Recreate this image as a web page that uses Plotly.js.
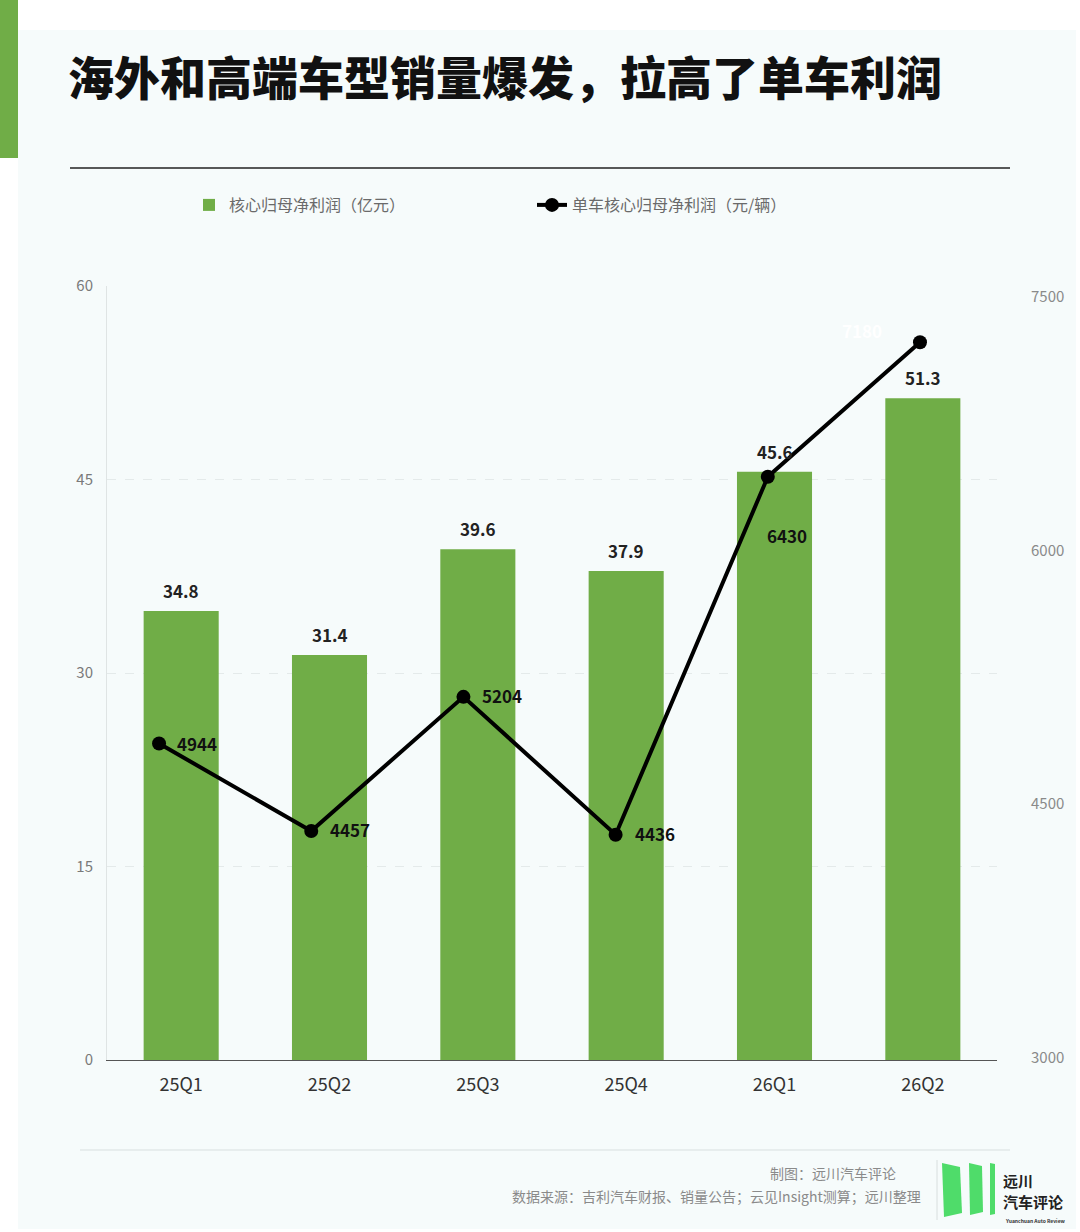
<!DOCTYPE html>
<html>
<head>
<meta charset="utf-8">
<script src="https://cdn.plot.ly/plotly-3.0.1.min.js"></script>
<style>
  html, body { margin:0; padding:0; background:#fff; }
  #myDiv { width:1080px; height:1232px; }
</style>
</head>
<body>
<div id="myDiv"></div>
<script>
/* data */
var quarters = ['25Q1','25Q2','25Q3','25Q4','26Q1','26Q2'];
var netProfit = [34.8, 31.4, 39.6, 37.9, 45.6, 51.3];          // 亿元
var perCarProfit = [4944, 4457, 5204, 4436, 6430, 7180];       // 元/辆

var FONT = '"Noto Sans CJK SC", "Noto Sans", sans-serif';
var GREEN = '#70ad47';

/* plot box in page pixels, used to place the extra page furniture */
var L = 107, R = 997, T = 286, B = 1060;
function px(x) { return (x - L) / (R - L); }
function py(y) { return (B - y) / (B - T); }

/**************************************************************/
function makeTraces() {
  var bars = {
    x: quarters,
    y: netProfit,
    name: '核心归母净利润（亿元）',
    type: 'bar',
    marker: { color: GREEN },
    hoverinfo: 'x+y'
  };
  var line = {
    x: quarters,
    y: perCarProfit,
    name: '单车核心归母净利润（元/辆）',
    type: 'scatter',
    mode: 'lines+markers',
    xaxis: 'x2',
    yaxis: 'y3',
    line: { color: '#000', width: 4 },
    marker: { color: '#000', size: 14 },
    cliponaxis: false
  };
  return [bars, line];
}

// label offsets (px) for the line values, left anchored unless noted
var lineLabelShift = [
  { dx: 16, dy: 0 }, { dx: 17, dy: 1 }, { dx: 17, dy: 1 },
  { dx: 17, dy: 1 }, { dx: -3, dy: -59 }, { dx: -58, dy: 12, anchor: 'center' }
];

function makeAnnotations() {
  var ann = [];
  var i;
  for (i = 0; i < quarters.length; i++) {
    ann.push({
      x: quarters[i], y: netProfit[i], xref: 'x', yref: 'y',
      text: netProfit[i].toFixed(1), showarrow: false,
      yanchor: 'bottom', yshift: 6,
      font: { family: FONT, size: 17, color: '#222', weight: 'bold' }
    });
  }
  for (i = 0; i < quarters.length; i++) {
    var s = lineLabelShift[i];
    ann.push({
      x: quarters[i], y: perCarProfit[i], xref: 'x2', yref: 'y3',
      text: String(perCarProfit[i]), showarrow: false,
      xanchor: s.anchor || 'left', yanchor: 'middle',
      xshift: s.dx, yshift: s.dy,
      font: { family: FONT, size: 17, color: i == quarters.length - 1 ? '#ffffff' : '#111', weight: 'bold' }
    });
  }

  // footer text
  ann.push({ xref: 'paper', yref: 'paper', x: px(898), y: py(1173), xanchor: 'right', yanchor: 'middle',
    text: '制图：远川汽车评论', showarrow: false, font: { family: FONT, size: 14, color: '#8a8a8a' } });
  ann.push({ xref: 'paper', yref: 'paper', x: px(923), y: py(1196), xanchor: 'right', yanchor: 'middle',
    text: '数据来源：吉利汽车财报、销量公告；云见Insight测算；远川整理', showarrow: false,
    font: { family: FONT, size: 14, color: '#8a8a8a' } });
  // logo text
  ann.push({ xref: 'paper', yref: 'paper', x: px(1002), y: py(1180), xanchor: 'left', yanchor: 'middle',
    text: '远川', showarrow: false, borderpad: 0,
    font: { family: FONT, size: 15, color: '#222', weight: 'bold' } });
  ann.push({ xref: 'paper', yref: 'paper', x: px(1002), y: py(1201), xanchor: 'left', yanchor: 'middle',
    text: '汽车评论', showarrow: false, borderpad: 0,
    font: { family: FONT, size: 15, color: '#222', weight: 'bold' } });
  ann.push({ xref: 'paper', yref: 'paper', x: px(1004), y: py(1220), xanchor: 'left', yanchor: 'middle',
    text: 'Yuanchuan Auto Review', showarrow: false, borderpad: 0,
    font: { family: FONT, size: 5, color: '#333', weight: 'bold' } });
  return ann;
}

function rectPx(x0, y0, x1, y1, fill, layer) {
  return { type: 'rect', xref: 'paper', yref: 'paper', x0: px(x0), x1: px(x1), y0: py(y0), y1: py(y1),
           fillcolor: fill, line: { width: 0 }, layer: layer || 'below' };
}
function linePx(x0, y0, x1, y1, color, w) {
  return { type: 'line', xref: 'paper', yref: 'paper', x0: px(x0), x1: px(x1), y0: py(y0), y1: py(y1),
           line: { color: color, width: w }, layer: 'below' };
}
function polyPx(pts, fill) {
  var d = pts.map(function (p, k) { return (k ? 'L' : 'M') + px(p[0]) + ',' + py(p[1]); }).join(' ') + ' Z';
  return { type: 'path', xref: 'paper', yref: 'paper', path: d, fillcolor: fill, line: { width: 0 }, layer: 'above' };
}

function makeShapes() {
  return [
    rectPx(18, 30, 1076, 1229, '#f6fbfb'),
    rectPx(0, 0, 18, 158, GREEN),
    linePx(70, 168, 1010, 168, '#222', 1.5),
    linePx(80, 1150, 1010, 1150, '#e2e8e8', 1.5),
    linePx(937, 1160, 937, 1220, '#d8dede', 1),
    polyPx([[942, 1163], [960, 1167], [962, 1213], [944, 1217]], '#4fdc6a'),
    polyPx([[969, 1163], [982, 1166], [983, 1212], [970, 1215]], '#4fdc6a'),
    polyPx([[990, 1163], [995, 1164], [995, 1214], [990, 1215]], '#4fdc6a')
  ];
}

function getLayout() {
  var gridc = '#e4eaea';
  return {
    width: 1080,
    height: 1232,
    margin: { l: L, r: 1080 - R, t: T, b: 1232 - B, pad: 0 },
    paper_bgcolor: '#ffffff',
    plot_bgcolor: 'rgba(0,0,0,0)',
    font: { family: FONT },
    title: {
      text: '海外和高端车型销量爆发，拉高了单车利润',
      xref: 'container', yref: 'container',
      x: 68 / 1080, y: 1 - 79 / 1232, xanchor: 'left', yanchor: 'middle',
      font: { family: FONT, size: 46, color: '#111', weight: 900 }
    },
    bargap: 0.494,
    showlegend: true,
    legend: {
      orientation: 'h',
      x: px(189), y: py(205), xanchor: 'left', yanchor: 'middle',
      entrywidth: 298,
      bgcolor: 'rgba(0,0,0,0)',
      font: { family: FONT, size: 16, color: '#6a6a6a' }
    },
    xaxis: {
      type: 'category',
      showline: true, linecolor: '#555', linewidth: 1,
      ticks: '', showgrid: false, zeroline: false,
      tickfont: { family: FONT, size: 18, color: '#333' },
      ticklabelstandoff: 8,
      fixedrange: true
    },
    xaxis2: {
      type: 'category',
      overlaying: 'x',
      range: [-0.342, 5.506],
      visible: false,
      fixedrange: true
    },
    yaxis: {
      range: [0, 60],
      tickvals: [0, 15, 30, 45, 60],
      showgrid: true, gridcolor: gridc, griddash: 'dash', gridwidth: 1,
      zeroline: false,
      showline: true, linecolor: '#dfe4e4', linewidth: 1,
      ticks: '',
      ticklabelstandoff: 10,
      tickfont: { family: FONT, size: 15, color: '#7a7a7a' },
      fixedrange: true
    },
    yaxis2: {
      overlaying: 'y', side: 'right',
      range: [2985, 7565],
      tick0: 3000, dtick: 1500,
      showgrid: false, zeroline: false, showline: false,
      ticks: '',
      ticklabelstandoff: 33,
      tickfont: { family: FONT, size: 15, color: '#8a8a8a' },
      fixedrange: true
    },
    yaxis3: {
      overlaying: 'y',
      range: [3181, 7493],
      visible: false,
      fixedrange: true
    },
    shapes: makeShapes(),
    annotations: makeAnnotations()
  };
}

/**************************************************************/
var _data = makeTraces();
var _layout = getLayout();
// an invisible trace so the right-hand axis gets drawn
_data.push({ x: [quarters[0]], y: [3000], yaxis: 'y2', type: 'scatter', mode: 'markers',
             marker: { opacity: 0 }, showlegend: false, hoverinfo: 'skip' });
Plotly.newPlot('myDiv', _data, _layout, { displayModeBar: false, staticPlot: true });
</script>
</body>
</html>
